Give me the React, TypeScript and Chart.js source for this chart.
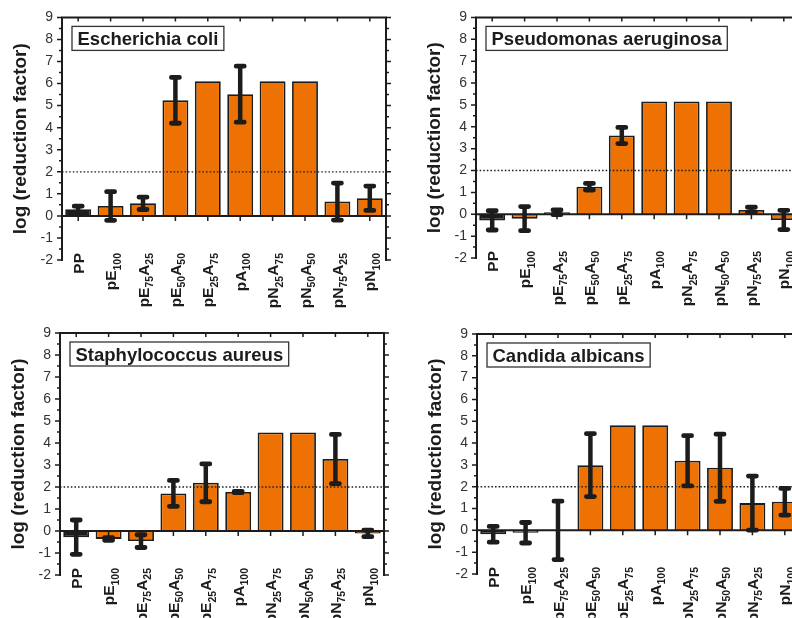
import React, { useEffect, useRef } from "react";
import { Chart, registerables } from "chart.js";

Chart.register(...registerables);

// ---- data ----
const categories = [
  "PP",
  "pE_{100}",
  "pE_{75}A_{25}",
  "pE_{50}A_{50}",
  "pE_{25}A_{75}",
  "pA_{100}",
  "pN_{25}A_{75}",
  "pN_{50}A_{50}",
  "pN_{75}A_{25}",
  "pN_{100}",
];
const yMin = -2;
const yMax = 9;
const thresholdValue = 2;
const yAxisTitle = "log (reduction factor)";

const ecoliValues = [0.3, 0.45, 0.57, 5.24, 6.11, 5.52, 6.11, 6.11, 0.65, 0.8];
const ecoliErrors = [0.14, 0.65, 0.28, 1.04, 0, 1.27, 0, 0, 0.84, 0.55];

const pseudoValues = [-0.28, -0.2, 0.09, 1.26, 3.6, 5.16, 5.16, 5.16, 0.2, -0.26];
const pseudoErrors = [0.44, 0.55, 0.11, 0.15, 0.37, 0, 0, 0, 0.12, 0.44];

const staphValues = [-0.28, -0.36, -0.46, 1.71, 2.19, 1.77, 4.48, 4.48, 3.27, -0.11];
const staphErrors = [0.78, 0.06, 0.29, 0.59, 0.86, 0.03, 0, 0, 1.12, 0.15];

const candidaValues = [-0.18, -0.11, 0.0, 2.99, 4.82, 4.82, 3.19, 2.87, 1.25, 1.31];
const candidaErrors = [0.36, 0.47, 1.34, 1.44, 0, 0, 1.15, 1.54, 1.24, 0.61];

// ---- styling / layout ----
const FONT = "'Liberation Sans', Arial, Helvetica, sans-serif";
const ORANGE = "#ee7203";
const DARK = "#1c1c1c";

const panels = [
  { title: "Escherichia coli", values: ecoliValues, errors: ecoliErrors, left: 0, top: 0, width: 400, height: 310, padTop: 17, padBottom: 50 },
  { title: "Pseudomonas aeruginosa", values: pseudoValues, errors: pseudoErrors, left: 414, top: 0, width: 400, height: 310, padTop: 17, padBottom: 52 },
  { title: "Staphylococcus aureus", values: staphValues, errors: staphErrors, left: -2, top: 310, width: 400, height: 308, padTop: 23, padBottom: 43 },
  { title: "Candida albicans", values: candidaValues, errors: candidaErrors, left: 415, top: 310, width: 400, height: 308, padTop: 24, padBottom: 44 },
];

function parseLabel(lab: string) {
  const parts = lab.split(/_\{(\d+)\}/);
  return parts
    .map((t, i) => ({ text: t, sub: i % 2 === 1 }))
    .filter((s) => s.text.length > 0);
}

function makeDecorPlugin(title: string, values: number[], errors: number[]) {
  return {
    id: "decor",
    afterDatasetsDraw(chart: any) {
      const ctx = chart.ctx as CanvasRenderingContext2D;
      const { left, right, top, bottom } = chart.chartArea;
      const ys = chart.scales.y;
      const xs = chart.scales.x;
      const y0 = ys.getPixelForValue(0);
      ctx.save();

      // dotted threshold line
      const yT = ys.getPixelForValue(thresholdValue);
      ctx.strokeStyle = "#222";
      ctx.lineWidth = 1.3;
      ctx.setLineDash([1.6, 2]);
      ctx.beginPath();
      ctx.moveTo(left, yT);
      ctx.lineTo(right, yT);
      ctx.stroke();
      ctx.setLineDash([]);

      // frame
      ctx.strokeStyle = DARK;
      ctx.lineWidth = 2;
      ctx.lineCap = "butt";
      ctx.beginPath();
      ctx.moveTo(left, bottom + 1);
      ctx.lineTo(left, top);
      ctx.lineTo(right, top);
      ctx.lineTo(right, bottom + 1);
      ctx.moveTo(left, y0);
      ctx.lineTo(right, y0);
      ctx.stroke();

      // y ticks (major + minor), both sides
      ctx.lineWidth = 1.5;
      ctx.beginPath();
      for (let v = yMin; v <= yMax + 1e-9; v += 0.5) {
        const py = ys.getPixelForValue(v);
        const major = Math.abs(v - Math.round(v)) < 1e-9;
        const len = major ? 5 : 3;
        ctx.moveTo(left - len, py);
        ctx.lineTo(left, py);
        ctx.moveTo(right, py);
        ctx.lineTo(right + len, py);
      }
      // x ticks at categories on zero line and top
      for (let i = 0; i < categories.length; i++) {
        const px = xs.getPixelForValue(i);
        ctx.moveTo(px, y0);
        ctx.lineTo(px, y0 + 5);
        ctx.moveTo(px, top);
        ctx.lineTo(px, top + 4);
      }
      ctx.stroke();

      // error bars
      const meta = chart.getDatasetMeta(0);
      meta.data.forEach((bar: any, i: number) => {
        const e = errors[i];
        if (!e) return;
        const x = bar.x;
        const yHi = ys.getPixelForValue(values[i] + e);
        const yLo = ys.getPixelForValue(values[i] - e);
        ctx.strokeStyle = DARK;
        ctx.lineCap = "butt";
        ctx.lineWidth = 4.5;
        ctx.beginPath();
        ctx.moveTo(x, yHi);
        ctx.lineTo(x, yLo);
        ctx.stroke();
        ctx.lineCap = "round";
        ctx.lineWidth = 4.8;
        ctx.beginPath();
        ctx.moveTo(x - 4, yHi);
        ctx.lineTo(x + 4, yHi);
        ctx.moveTo(x - 4, yLo);
        ctx.lineTo(x + 4, yLo);
        ctx.stroke();
      });

      // title box
      ctx.font = `bold 18.5px ${FONT}`;
      const tw = ctx.measureText(title).width;
      const bx = left + 10;
      const by = top + 9;
      const bh = 24;
      const bw = tw + 11;
      ctx.fillStyle = "#fff";
      ctx.fillRect(bx, by, bw, bh);
      ctx.strokeStyle = "#333";
      ctx.lineWidth = 1.3;
      ctx.strokeRect(bx, by, bw, bh);
      ctx.fillStyle = DARK;
      ctx.textBaseline = "alphabetic";
      ctx.textAlign = "left";
      ctx.fillText(title, bx + 5.5, by + bh / 2 + 6.6);

      // x category labels (rotated, with subscripts)
      const mainSize = 15.5;
      const subSize = 10.5;
      categories.forEach((lab, i) => {
        const px = xs.getPixelForValue(i);
        const segs = parseLabel(lab).map((s) => {
          ctx.font = `bold ${s.sub ? subSize : mainSize}px ${FONT}`;
          return { ...s, w: ctx.measureText(s.text).width };
        });
        const total = segs.reduce((a, s) => a + s.w, 0);
        ctx.save();
        ctx.translate(px, bottom - 7);
        ctx.rotate(-Math.PI / 2);
        let pos = -total;
        const base = mainSize * 0.716 / 2;
        segs.forEach((s) => {
          ctx.font = `bold ${s.sub ? subSize : mainSize}px ${FONT}`;
          ctx.fillStyle = DARK;
          ctx.textAlign = "left";
          ctx.textBaseline = "alphabetic";
          ctx.fillText(s.text, pos, s.sub ? base + 4.5 : base);
          pos += s.w;
        });
        ctx.restore();
      });

      ctx.restore();
    },
  };
}

function Panel(props: any) {
  const { title, values, errors, left, top, width, height, padTop, padBottom } = props;
  const ref = useRef<HTMLCanvasElement | null>(null);
  useEffect(() => {
    if (!ref.current) return;
    const labels = categories.map((c) => c.replace(/_\{(\d+)\}/g, "$1"));
    const chart = new Chart(ref.current, {
      type: "bar",
      data: {
        labels,
        datasets: [
          {
            data: values,
            backgroundColor: values.map((_: number, i: number) => (i === 0 ? DARK : ORANGE)),
            borderColor: DARK,
            borderWidth: 1.8,
            categoryPercentage: 1,
            barPercentage: 0.8,
          },
        ],
      },
      options: {
        responsive: false,
        animation: false,
        events: [],
        layout: { padding: { left: 0, right: 14, top: padTop, bottom: padBottom } },
        plugins: { legend: { display: false }, tooltip: { enabled: false } },
        scales: {
          x: { display: false, offset: true },
          y: {
            min: yMin,
            max: yMax,
            afterFit: (scale: any) => {
              scale.width = 62;
            },
            grid: { display: false, drawTicks: false },
            border: { display: false },
            ticks: {
              stepSize: 1,
              padding: 9,
              color: "#333",
              font: { family: FONT, size: 14 },
            },
            title: {
              display: true,
              text: yAxisTitle,
              color: DARK,
              font: { family: FONT, size: 19, weight: "bold" },
              padding: { top: 9, bottom: 0 },
            },
          },
        },
      },
      plugins: [makeDecorPlugin(title, values, errors)],
    } as any);
    return () => chart.destroy();
  }, []);
  return (
    <canvas
      ref={ref}
      width={width}
      height={height}
      style={{ position: "absolute", left, top, width, height }}
    />
  );
}

export default function App() {
  return (
    <div
      style={{
        position: "fixed",
        left: 0,
        top: 0,
        width: 792,
        height: 618,
        overflow: "hidden",
        background: "#fff",
      }}
    >
      {panels.map((p) => (
        <Panel key={p.title} {...p} />
      ))}
    </div>
  );
}
